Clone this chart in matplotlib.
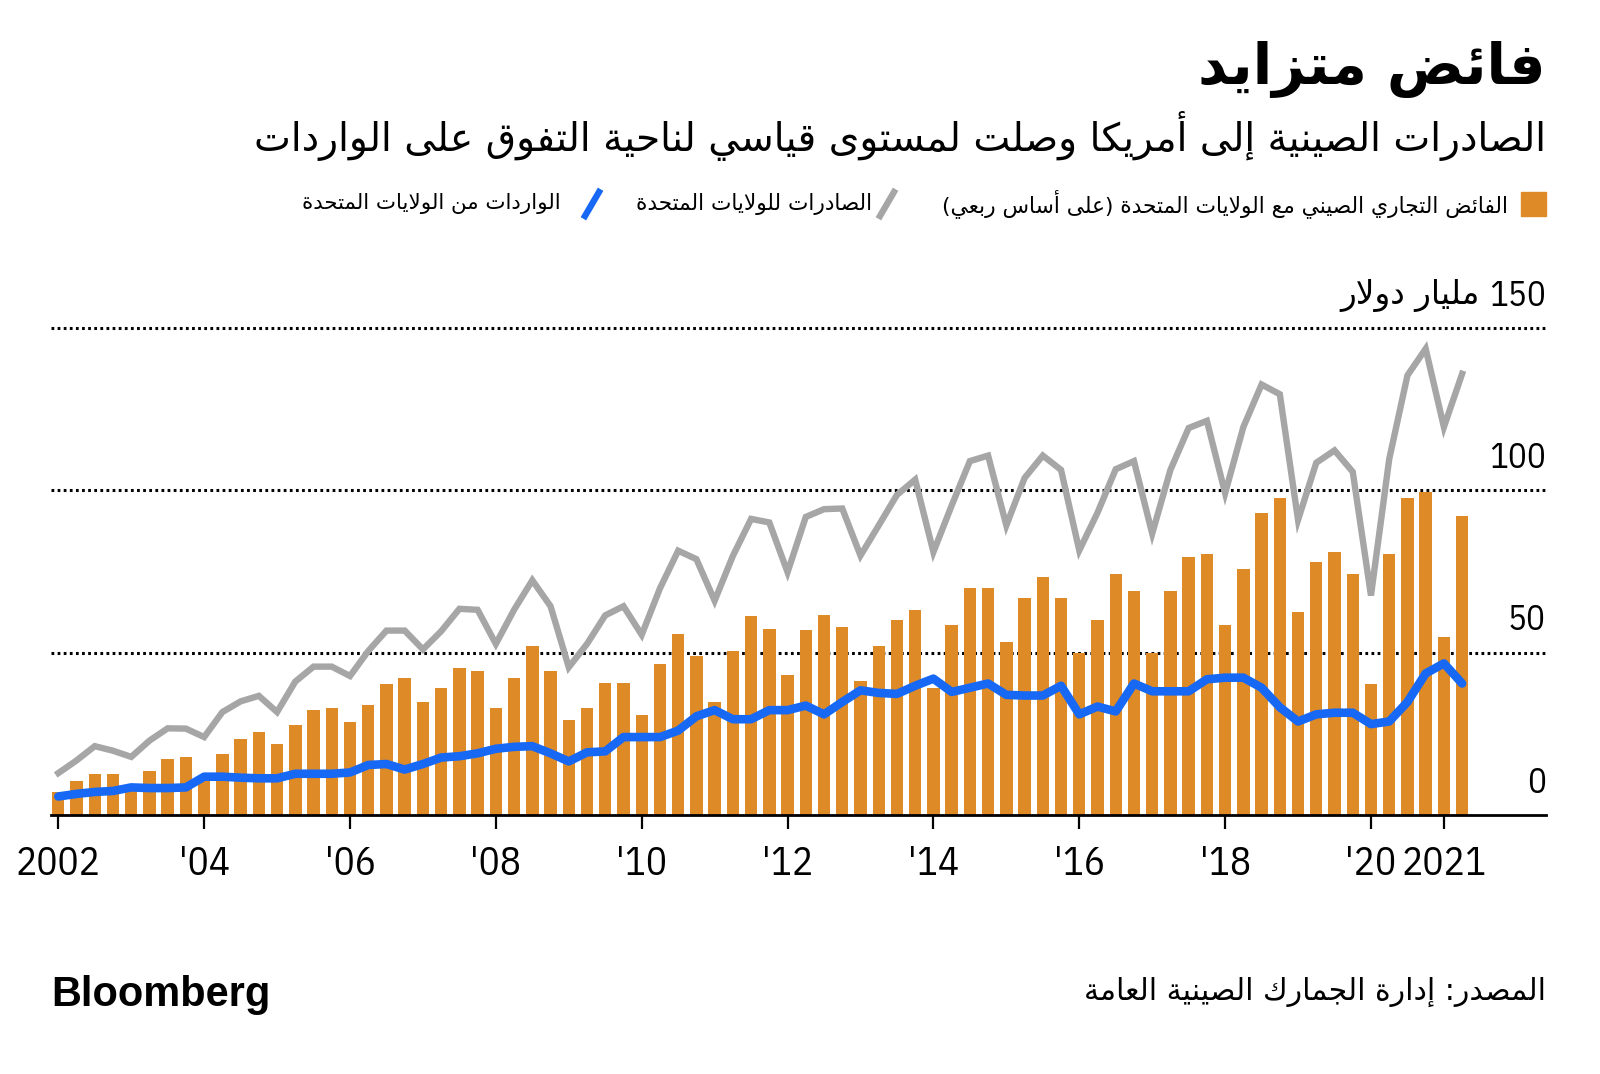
import re
import numpy as np
import matplotlib
matplotlib.use('Agg')
import matplotlib.pyplot as plt
from matplotlib.patches import Rectangle
from matplotlib.lines import Line2D

# quarterly values, billion USD, 2002Q1 .. 2021Q2
surplus = [7.2, 10.4, 12.6, 12.6, 9.0, 13.4, 17.3, 18.0,
           12.0, 18.7, 23.4, 25.6, 21.8, 27.8, 32.3, 33.1,
           28.6, 33.9, 40.2, 42.2, 34.7, 39.1, 45.2, 44.3,
           33.1, 42.2, 52.0, 44.3, 29.3, 33.1, 40.8, 40.8,
           30.8, 46.5, 55.7, 49.0, 34.7, 50.5, 61.3, 57.3,
           43.0, 57.0, 61.6, 57.8, 41.4, 51.9, 60.1, 63.1,
           39.2, 58.6, 70.0, 70.0, 53.2, 66.9, 73.4, 66.9,
           49.8, 60.1, 74.2, 69.1, 49.8, 69.1, 79.6, 80.3,
           58.6, 75.7, 93.1, 97.5, 62.4, 77.9, 81.1, 74.2,
           40.2, 80.3, 97.5, 99.5, 54.8, 92.0]
exports = [12.9, 16.8, 21.2, 19.8, 17.9, 22.9, 26.7, 26.6,
           24.0, 31.7, 35.0, 36.7, 31.7, 41.1, 45.7, 45.7,
           42.8, 50.5, 56.8, 56.8, 51.0, 56.6, 63.5, 63.2,
           52.7, 63.2, 72.3, 64.3, 45.5, 52.7, 61.5, 64.3,
           55.5, 69.8, 81.4, 78.8, 66.0, 79.8, 91.2, 90.1,
           74.8, 91.8, 94.2, 94.4, 79.9, 89.2, 98.6, 103.3,
           81.0, 95.3, 109.0, 110.7, 89.2, 103.8, 110.7, 106.3,
           81.5, 93.1, 106.5, 109.0, 86.7, 106.3, 119.2, 121.4,
           99.1, 119.5, 132.6, 129.6, 90.9, 108.5, 112.3, 105.7,
           67.6, 109.6, 135.4, 143.6, 119.5, 135.9]
imports = [5.7, 6.5, 7.1, 7.4, 8.5, 8.3, 8.3, 8.5,
           11.8, 11.8, 11.5, 11.3, 11.3, 12.7, 12.7, 12.7,
           13.1, 15.4, 15.7, 14.0, 15.7, 17.7, 18.1, 19.0,
           20.4, 21.0, 21.2, 19.0, 16.5, 19.3, 19.6, 24.0,
           24.0, 24.0, 26.0, 30.4, 32.3, 29.5, 29.5, 32.3,
           32.3, 33.7, 31.0, 34.8, 38.4, 37.6, 37.3, 39.8,
           42.0, 37.9, 39.2, 40.5, 37.0, 36.8, 36.8, 39.8,
           31.0, 33.4, 31.9, 40.5, 38.1, 38.1, 38.1, 41.8,
           42.3, 42.3, 39.2, 33.2, 28.8, 31.0, 31.5, 31.5,
           28.0, 28.8, 34.8, 43.6, 46.7, 40.5]
quarters = 2002 + np.arange(len(surplus)) * 0.25

tick_years = [2002, 2004, 2006, 2008, 2010, 2012, 2014, 2016, 2018, 2020, 2021]
tick_labels = ['2002', "'04", "'06", "'08", "'10", "'12", "'14", "'16", "'18", "'20", '2021']
y_grid = [50, 100, 150]
y_labels = {0: '0', 50: '50', 100: '100', 150: '150'}
unit_label = 'مليار دولار'

title = 'فائض متزايد'
subtitle = 'الصادرات الصينية إلى أمريكا وصلت لمستوى قياسي لناحية التفوق على الواردات'
legend_labels = ['الفائض التجاري الصيني مع الولايات المتحدة (على أساس ربعي)',
                 'الصادرات للولايات المتحدة',
                 'الواردات من الولايات المتحدة']
source = 'المصدر: إدارة الجمارك الصينية العامة'

ORANGE = '#DE8A27'
GRAY = '#A6A6A6'
BLUE = '#1769F5'

# --- minimal arabic shaping (presentation forms) + right-to-left ordering ---
LETTERS = 'ءآأؤإئابةتثجحخدذرزسشصضطظعغفقكلمنهوىي'
NFORMS = [1, 2, 2, 2, 2, 4, 2, 4, 2, 4, 4, 4, 4, 4, 2, 2, 2, 2, 4, 4,
          4, 4, 4, 4, 4, 4, 4, 4, 4, 4, 4, 4, 4, 2, 2, 4]
FORMS = {}
code = 0xFE80
for ch, n in zip(LETTERS, NFORMS):
    FORMS[ch] = [chr(code + k) for k in range(n)]
    code += n
LAM_ALEF = {'آ': 0xFEF5, 'أ': 0xFEF7, 'إ': 0xFEF9, 'ا': 0xFEFB}
MIRROR = str.maketrans('()', ')(')


def joins_next(ch):
    return ch in FORMS and len(FORMS[ch]) == 4


def joins_prev(ch):
    return ch in FORMS and len(FORMS[ch]) >= 2


def shape(text):
    out = []
    i = 0
    while i < len(text):
        ch = text[i]
        prev = text[i - 1] if i > 0 else ''
        linked_prev = joins_next(prev) and joins_prev(ch)
        if ch == 'ل' and i + 1 < len(text) and text[i + 1] in LAM_ALEF:
            out.append(chr(LAM_ALEF[text[i + 1]] + (1 if linked_prev else 0)))
            i += 2
            continue
        if ch not in FORMS:
            out.append(ch)
            i += 1
            continue
        nxt = text[i + 1] if i + 1 < len(text) else ''
        linked_next = joins_next(ch) and joins_prev(nxt)
        forms = FORMS[ch]
        if linked_prev and linked_next:
            out.append(forms[3])
        elif linked_prev:
            out.append(forms[1])
        elif linked_next:
            out.append(forms[2])
        else:
            out.append(forms[0])
        i += 1
    return ''.join(out)


def ar(text):
    runs = re.findall(r'[0-9A-Za-z.]+|[^0-9A-Za-z.]+', shape(text))
    out = []
    for r in reversed(runs):
        if r[0].isascii() and r[0].isalnum():
            out.append(r)
        else:
            out.append(r[::-1].translate(MIRROR))
    return ''.join(out)


W, H = 1600, 1074
fig = plt.figure(figsize=(W / 100, H / 100), dpi=100)
renderer = fig.canvas.get_renderer()


def fx(x):
    return x / W


def fy(y):
    return 1 - y / H


def fit(t, width_px):
    w = t.get_window_extent(renderer).width
    t.set_fontsize(t.get_fontsize() * width_px / w)


def size_for(text, family, width_px):
    t = fig.text(0, 0, text, family=family, fontsize=20)
    w = t.get_window_extent(renderer).width
    t.remove()
    return 20 * width_px / w


AR_FONT = ['DejaVu Sans']
NUM_FONT = ['IBM Plex Sans Condensed', 'Liberation Sans Narrow', 'DejaVu Sans']

x_left, x_right = 51, 1546
y_base, y_top = 815, 328
ax = fig.add_axes([fx(x_left), fy(y_base), (x_right - x_left) / W, (y_base - y_top) / H])
ax.set_xlim(2001.9, 2022.4)
ax.set_ylim(0, 150)

for v in y_grid:
    ax.axhline(v, color='black', lw=2.2, ls=(0, (0.9, 1.1)), zorder=0, clip_on=False)

ax.bar(quarters, surplus, width=0.17, color=ORANGE, zorder=2)
ax.plot(quarters, exports, color=GRAY, lw=4.6, solid_joinstyle='miter', zorder=3)
ax.plot(quarters, imports, color=BLUE, lw=6.2, solid_joinstyle='round',
        solid_capstyle='round', zorder=4)

for s in ['top', 'left', 'right']:
    ax.spines[s].set_visible(False)
ax.spines['bottom'].set_linewidth(2.0)
ax.set_yticks([])
ax.set_xticks(tick_years)
tick_size = size_for('2002', NUM_FONT, 85)
ax.set_xticklabels(tick_labels, family=NUM_FONT, fontsize=tick_size)
ax.tick_params(axis='x', length=10, width=1.6, pad=12, color='black')

ylab_size = size_for('100', NUM_FONT, 57)
for v, lab in y_labels.items():
    ax.text(2022.4, v + 10, lab, ha='right', va='center', fontsize=ylab_size,
            family=NUM_FONT, clip_on=False)
t = fig.text(fx(1480), fy(296), ar(unit_label), ha='right', va='center',
             family=AR_FONT, fontsize=24)
fit(t, 140)

# title block
t = fig.text(fx(1546), fy(69), ar(title), ha='right', va='center',
             family=AR_FONT, fontweight='bold', fontsize=44)
fit(t, 347)
t = fig.text(fx(1546), fy(136), ar(subtitle), ha='right', va='center',
             family=AR_FONT, fontsize=26)
fit(t, 1293)

# legend
fig.add_artist(Rectangle((fx(1521), fy(216)), 25 / W, 24 / H, color=ORANGE,
                         transform=fig.transFigure))
fig.add_artist(Line2D([fx(880), fx(894)], [fy(216), fy(192)], color=GRAY, lw=4.6,
                      transform=fig.transFigure))
fig.add_artist(Line2D([fx(585), fx(599)], [fy(216), fy(192)], color=BLUE, lw=4.6,
                      transform=fig.transFigure))
legend_pos = [(1508, 569), (872, 238), (561, 260)]
for lab, (xr, wd) in zip(legend_labels, legend_pos):
    t = fig.text(fx(xr), fy(204), ar(lab), ha='right', va='center',
                 family=AR_FONT, fontsize=15)
    fit(t, wd)

# footer
t = fig.text(fx(51), fy(995), 'Bloomberg', ha='left', va='center',
             family=['Liberation Sans', 'DejaVu Sans'], fontweight='bold', fontsize=30)
fit(t, 219)
t = fig.text(fx(1546), fy(992), ar(source), ha='right', va='center',
             family=AR_FONT, fontsize=20)
fit(t, 461)

fig.savefig('out.png', dpi=100)
